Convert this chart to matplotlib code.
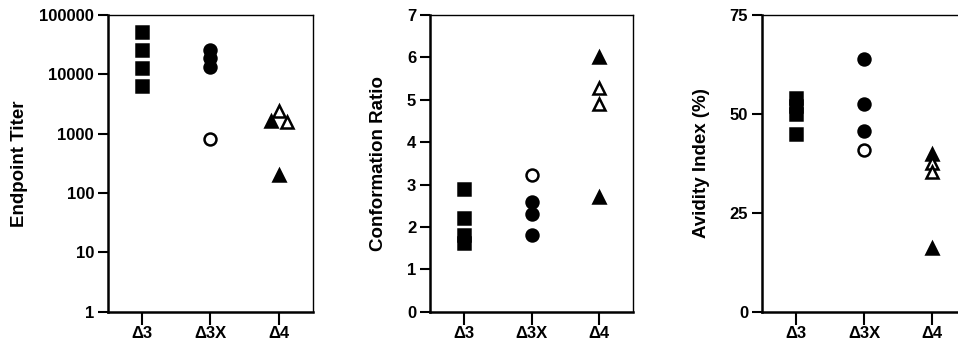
import numpy as np
import matplotlib
matplotlib.use("Agg")
import matplotlib.pyplot as plt

plt.rcParams["font.family"] = ["Liberation Sans", "DejaVu Sans"]
plt.rcParams["font.weight"] = "bold"

# -- data --
groups = ["Δ3", "Δ3X", "Δ4"]

# endpoint titer
titer_d3 = [51200, 25600, 12800, 6400]
titer_d3x_filled = [25600, 19200, 13500]
titer_d3x_open = [800]
titer_d4_filled = [1650, 200]
titer_d4_open = [2400, 1550]

# conformation ratio
ratio_d3 = [2.9, 2.22, 1.8, 1.62]
ratio_d3x_filled = [2.6, 2.3, 1.8]
ratio_d3x_open = [3.23]
ratio_d4_filled = [6.0, 2.7]
ratio_d4_open = [5.27, 4.9]

# avidity index (%)
avidity_d3 = [54, 52, 50, 45]
avidity_d3x_filled = [64, 52.5, 45.8]
avidity_d3x_open = [41]
avidity_d4_filled = [40, 16]
avidity_d4_open = [37.5, 35.2]

# horizontal jitter of the overlapping triangles in the titer panel
titer_d4_filled_dx = [-0.12, 0.0]
titer_d4_open_dx = [0.0, 0.12]

# -- figure --
fig = plt.figure(figsize=(9.58, 3.44), dpi=100)
bottom, height = 0.094, 0.862
axes = [
    fig.add_axes([0.1127, bottom, 0.214, height]),
    fig.add_axes([0.4489, bottom, 0.212, height]),
    fig.add_axes([0.7954, bottom, 0.213, height]),
]

ms = 8.6
def draw(ax, i, vals, marker, filled, dx=None, size=ms):
    x = np.full(len(vals), i, dtype=float)
    if dx is not None:
        x = x + np.asarray(dx)
    ax.plot(x, vals, linestyle="none", marker=marker, markersize=size,
            markerfacecolor="black" if filled else "white",
            markeredgecolor="black", markeredgewidth=1.8, clip_on=False)

panels = [
    (titer_d3, titer_d3x_filled, titer_d3x_open, titer_d4_filled, titer_d4_open),
    (ratio_d3, ratio_d3x_filled, ratio_d3x_open, ratio_d4_filled, ratio_d4_open),
    (avidity_d3, avidity_d3x_filled, avidity_d3x_open, avidity_d4_filled, avidity_d4_open),
]

for k, (ax, (d3, d3xf, d3xo, d4f, d4o)) in enumerate(zip(axes, panels)):
    draw(ax, 0, d3, "s", True, size=8.4)
    draw(ax, 1, d3xf, "o", True)
    draw(ax, 1, d3xo, "o", False)
    if k == 0:
        draw(ax, 2, d4f, "^", True, dx=titer_d4_filled_dx, size=9.2)
        draw(ax, 2, d4o, "^", False, dx=titer_d4_open_dx, size=9.2)
    else:
        draw(ax, 2, d4f, "^", True, size=9.2)
        draw(ax, 2, d4o, "^", False, size=9.2)

    ax.set_xlim(-0.5, 2.5)
    ax.set_xticks(range(len(groups)))
    ax.set_xticklabels(groups)
    for side in ["left", "bottom"]:
        ax.spines[side].set_linewidth(1.8)
    for side in ["top", "right"]:
        ax.spines[side].set_linewidth(1.0)
    ax.tick_params(axis="y", direction="out", width=1.5, length=7,
                   labelsize=12, pad=3)
    ax.tick_params(axis="x", direction="out", width=1.5, length=9,
                   labelsize=12, pad=1)
    ax.minorticks_off()

ax1, ax2, ax3 = axes
ax1.set_yscale("log")
ax1.set_ylim(1, 100000)
ax1.set_yticks([1, 10, 100, 1000, 10000, 100000])
ax1.set_yticklabels(["1", "10", "100", "1000", "10000", "100000"])
ax1.minorticks_off()
ax1.set_ylabel("Endpoint Titer", fontsize=13.5, fontweight="bold", labelpad=8)

ax2.set_ylim(0, 7)
ax2.set_yticks(range(0, 8))
ax2.set_ylabel("Conformation Ratio", fontsize=13.5, fontweight="bold", labelpad=14)

ax3.set_ylim(0, 75)
ax3.set_yticks([0, 25, 50, 75])
ax3.set_ylabel("Avidity Index (%)", fontsize=13.5, fontweight="bold", labelpad=14)

fig.savefig("out.png", dpi=100)
